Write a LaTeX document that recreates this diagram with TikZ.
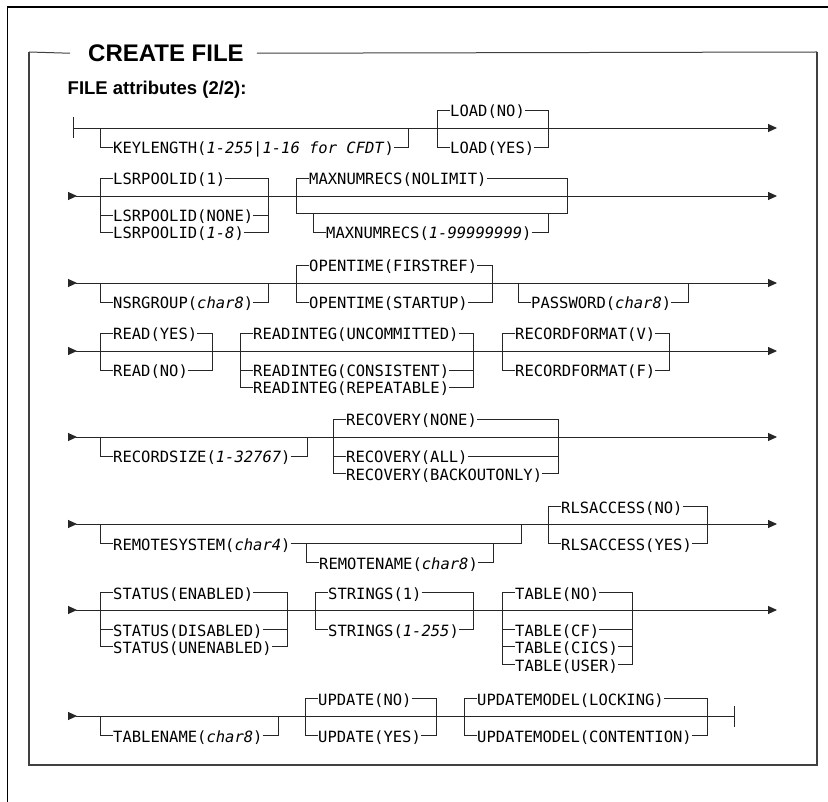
\documentclass[tikz,border=0pt]{standalone}
\usepackage{fontspec}
\setmainfont{Liberation Sans}
\newfontfamily\railfont{DejaVu Sans Mono}
\usetikzlibrary{arrows.meta}
\newcommand{\prm}[1]{\textit{#1}}

\begin{document}
\begin{tikzpicture}[x=1pt, y=-1pt,
  rail/.style={line width=0.9pt, color=black!85},
  kw/.style={font=\railfont\fontsize{15.5}{17}\selectfont, inner sep=0pt, text height=15pt, text depth=1pt, anchor=west},
  rowarr/.style={rail, {Triangle[reversed, length=9pt, width=8pt]}-{Triangle[length=9pt, width=8pt]}},
  frame/.style={line width=1.6pt, color=black!75}]
  \useasboundingbox (0,0) rectangle (828,802);
  % frames and headings
  \draw[line width=1.5pt] (7.5,802) -- (7.5,7) -- (828,7);
  \node[font=\bfseries\fontsize{24}{28}\selectfont, inner sep=0pt, anchor=base west] (title) at (88,61.5) {CREATE FILE};
  \node[font=\bfseries\fontsize{18.5}{22}\selectfont, inner sep=0pt, anchor=base west] (sub) at (67.5,94.5) {FILE attributes (2/2):};
  \draw[line width=1pt, color=black!75] (title.west) ++(-18,0) -- (29,52);
  \draw[line width=1pt, color=black!75] (title.east) ++(13,0) -- (817,52);
  \draw[frame] (29,52) -- (29,765) -- (817,765) -- (817,52);
  % row lines
  \foreach \ry [count=\i] in {128,196,283,351,437,524,610,716} {
    \coordinate (r\i-s) at (68,\ry);
    \coordinate (r\i-e) at (777,\ry);
  }
  \coordinate (r1-bar) at (72.5,128);
  \coordinate (r8-bar) at (735,716);
  \draw[rail, {Bar[width=21pt]}-{Triangle[length=9pt, width=8pt]}] (r1-bar) -- (r1-e);
  \draw[rowarr] (r2-s) -- (r2-e);
  \draw[rowarr] (r3-s) -- (r3-e);
  \draw[rowarr] (r4-s) -- (r4-e);
  \draw[rowarr] (r5-s) -- (r5-e);
  \draw[rowarr] (r6-s) -- (r6-e);
  \draw[rowarr] (r7-s) -- (r7-e);
  \draw[rail, {Triangle[reversed, length=9pt, width=8pt]}-{Bar[width=21pt]}] (r8-s) -- (r8-bar);

  % row 1: KEYLENGTH, LOAD
  \coordinate (klL) at (100,128); \coordinate (klR) at (408,128);
  \node[kw] (keylen) at (113,147) {KEYLENGTH(\prm{1-255}|\prm{1-16 for CFDT})};
  \draw[rail] (klL) |- (keylen.west) (keylen.east) -| (klR);
  \coordinate (ldL) at (437,128); \coordinate (ldR) at (548,128);
  \node[kw] (loadno) at (450,110) {LOAD(NO)};
  \node[kw] (loadyes) at (450,147) {LOAD(YES)};
  \draw[rail] (ldL) |- (loadno.west) (loadno.east) -| (ldR);
  \draw[rail] (ldL) |- (loadyes.west) (loadyes.east) -| (ldR);

  % row 2: LSRPOOLID, MAXNUMRECS
  \coordinate (lsL) at (100,196); \coordinate (lsR) at (268,196);
  \node[kw] (lsone) at (113,178) {LSRPOOLID(1)};
  \node[kw] (lsnone) at (113,215) {LSRPOOLID(NONE)};
  \node[kw] (lsnum) at (113,232) {LSRPOOLID(\prm{1-8})};
  \draw[rail] (lsL) |- (lsone.west) (lsone.east) -| (lsR);
  \draw[rail] (lsL) |- (lsnone.west) (lsnone.east) -| (lsR);
  \draw[rail] (lsL) |- (lsnum.west) (lsnum.east) -| (lsR);
  \coordinate (mxL) at (296,196); \coordinate (mxR) at (567,196);
  \coordinate (mxLo) at (296,213); \coordinate (mxRo) at (567,213);
  \coordinate (mxiL) at (313,213); \coordinate (mxiR) at (548,213);
  \node[kw] (mxnolim) at (309,178) {MAXNUMRECS(NOLIMIT)};
  \node[kw] (mxnum) at (326,232) {MAXNUMRECS(\prm{1-99999999})};
  \draw[rail] (mxL) |- (mxnolim.west) (mxnolim.east) -| (mxR);
  \draw[rail] (mxL) -- (mxLo) -- (mxRo) -- (mxR);
  \draw[rail] (mxiL) |- (mxnum.west) (mxnum.east) -| (mxiR);

  % row 3: NSRGROUP, OPENTIME, PASSWORD
  \coordinate (nsL) at (100,283); \coordinate (nsR) at (268,283);
  \node[kw] (nsrg) at (113,302) {NSRGROUP(\prm{char8})};
  \draw[rail] (nsL) |- (nsrg.west) (nsrg.east) -| (nsR);
  \coordinate (otL) at (296,283); \coordinate (otR) at (492,283);
  \node[kw] (otfirst) at (309,265) {OPENTIME(FIRSTREF)};
  \node[kw] (otstart) at (309,302) {OPENTIME(STARTUP)};
  \draw[rail] (otL) |- (otfirst.west) (otfirst.east) -| (otR);
  \draw[rail] (otL) |- (otstart.west) (otstart.east) -| (otR);
  \coordinate (pwL) at (518,283); \coordinate (pwR) at (688,283);
  \node[kw] (passwd) at (531,302) {PASSWORD(\prm{char8})};
  \draw[rail] (pwL) |- (passwd.west) (passwd.east) -| (pwR);

  % row 4: READ, READINTEG, RECORDFORMAT
  \coordinate (rdL) at (100,351); \coordinate (rdR) at (212,351);
  \node[kw] (rdyes) at (113,333) {READ(YES)};
  \node[kw] (rdno) at (113,370) {READ(NO)};
  \draw[rail] (rdL) |- (rdyes.west) (rdyes.east) -| (rdR);
  \draw[rail] (rdL) |- (rdno.west) (rdno.east) -| (rdR);
  \coordinate (riL) at (240,351); \coordinate (riR) at (473,351);
  \node[kw] (riunc) at (253,333) {READINTEG(UNCOMMITTED)};
  \node[kw] (ricons) at (253,370) {READINTEG(CONSISTENT)};
  \node[kw] (rirep) at (253,387) {READINTEG(REPEATABLE)};
  \draw[rail] (riL) |- (riunc.west) (riunc.east) -| (riR);
  \draw[rail] (riL) |- (ricons.west) (ricons.east) -| (riR);
  \draw[rail] (riL) |- (rirep.west) (rirep.east) -| (riR);
  \coordinate (rfL) at (502,351); \coordinate (rfR) at (669,351);
  \node[kw] (rfv) at (515,333) {RECORDFORMAT(V)};
  \node[kw] (rff) at (515,370) {RECORDFORMAT(F)};
  \draw[rail] (rfL) |- (rfv.west) (rfv.east) -| (rfR);
  \draw[rail] (rfL) |- (rff.west) (rff.east) -| (rfR);

  % row 5: RECORDSIZE, RECOVERY
  \coordinate (rsL) at (100,437); \coordinate (rsR) at (307,437);
  \node[kw] (recsize) at (113,456) {RECORDSIZE(\prm{1-32767})};
  \draw[rail] (rsL) |- (recsize.west) (recsize.east) -| (rsR);
  \coordinate (rcL) at (333,437); \coordinate (rcR) at (558,437);
  \node[kw] (rcnone) at (346,419) {RECOVERY(NONE)};
  \node[kw] (rcall) at (346,456) {RECOVERY(ALL)};
  \node[kw] (rcback) at (346,473) {RECOVERY(BACKOUTONLY)};
  \draw[rail] (rcL) |- (rcnone.west) (rcnone.east) -| (rcR);
  \draw[rail] (rcL) |- (rcall.west) (rcall.east) -| (rcR);
  \draw[rail] (rcL) |- (rcback.west) (rcback.east) -| (rcR);

  % row 6: REMOTESYSTEM, REMOTENAME, RLSACCESS
  \coordinate (rmL) at (100,524); \coordinate (rmR) at (521,524);
  \node[kw] (remsys) at (113,543) {REMOTESYSTEM(\prm{char4})};
  \draw[rail] (rmL) |- (remsys.west) (remsys.east) -| (rmR);
  \coordinate (rnL) at (306,543); \coordinate (rnR) at (493,543);
  \node[kw] (remname) at (319,562) {REMOTENAME(\prm{char8})};
  \draw[rail] (rnL) |- (remname.west) (remname.east) -| (rnR);
  \coordinate (rlL) at (548,524); \coordinate (rlR) at (707,524);
  \node[kw] (rlno) at (561,506) {RLSACCESS(NO)};
  \node[kw] (rlyes) at (561,543) {RLSACCESS(YES)};
  \draw[rail] (rlL) |- (rlno.west) (rlno.east) -| (rlR);
  \draw[rail] (rlL) |- (rlyes.west) (rlyes.east) -| (rlR);

  % row 7: STATUS, STRINGS, TABLE
  \coordinate (stL) at (100,610); \coordinate (stR) at (287,610);
  \node[kw] (stena) at (113,592) {STATUS(ENABLED)};
  \node[kw] (stdis) at (113,629) {STATUS(DISABLED)};
  \node[kw] (stune) at (113,646) {STATUS(UNENABLED)};
  \draw[rail] (stL) |- (stena.west) (stena.east) -| (stR);
  \draw[rail] (stL) |- (stdis.west) (stdis.east) -| (stR);
  \draw[rail] (stL) |- (stune.west) (stune.east) -| (stR);
  \coordinate (sgL) at (315,610); \coordinate (sgR) at (473,610);
  \node[kw] (sgone) at (328,592) {STRINGS(1)};
  \node[kw] (sgnum) at (328,629) {STRINGS(\prm{1-255})};
  \draw[rail] (sgL) |- (sgone.west) (sgone.east) -| (sgR);
  \draw[rail] (sgL) |- (sgnum.west) (sgnum.east) -| (sgR);
  \coordinate (tbL) at (502,610); \coordinate (tbR) at (632,610);
  \node[kw] (tbno) at (515,592) {TABLE(NO)};
  \node[kw] (tbcf) at (515,629) {TABLE(CF)};
  \node[kw] (tbcics) at (515,646) {TABLE(CICS)};
  \node[kw] (tbuser) at (515,664) {TABLE(USER)};
  \draw[rail] (tbL) |- (tbno.west) (tbno.east) -| (tbR);
  \draw[rail] (tbL) |- (tbcf.west) (tbcf.east) -| (tbR);
  \draw[rail] (tbL) |- (tbcics.west) (tbcics.east) -| (tbR);
  \draw[rail] (tbL) |- (tbuser.west) (tbuser.east) -| (tbR);

  % row 8: TABLENAME, UPDATE, UPDATEMODEL
  \coordinate (tnL) at (100,716); \coordinate (tnR) at (278,716);
  \node[kw] (tbname) at (113,735) {TABLENAME(\prm{char8})};
  \draw[rail] (tnL) |- (tbname.west) (tbname.east) -| (tnR);
  \coordinate (upL) at (305,716); \coordinate (upR) at (436,716);
  \node[kw] (upno) at (318,698) {UPDATE(NO)};
  \node[kw] (upyes) at (318,735) {UPDATE(YES)};
  \draw[rail] (upL) |- (upno.west) (upno.east) -| (upR);
  \draw[rail] (upL) |- (upyes.west) (upyes.east) -| (upR);
  \coordinate (umL) at (464,716); \coordinate (umR) at (707,716);
  \node[kw] (umlock) at (477,698) {UPDATEMODEL(LOCKING)};
  \node[kw] (umcont) at (477,735) {UPDATEMODEL(CONTENTION)};
  \draw[rail] (umL) |- (umlock.west) (umlock.east) -| (umR);
  \draw[rail] (umL) |- (umcont.west) (umcont.east) -| (umR);
\end{tikzpicture}
\end{document}
